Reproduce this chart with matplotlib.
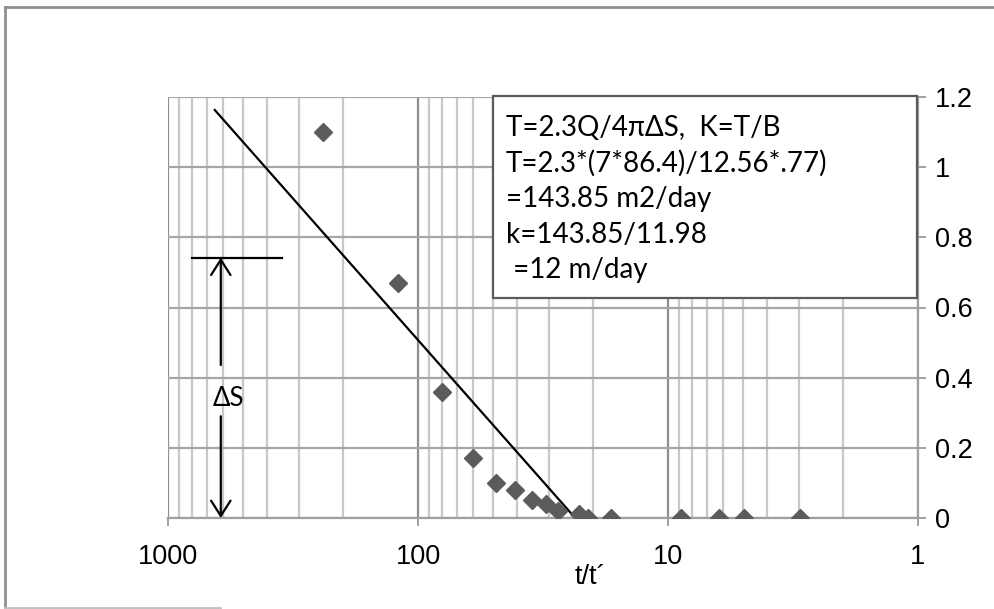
import matplotlib
matplotlib.use("Agg")
import matplotlib.pyplot as plt
import matplotlib.ticker as ticker
from matplotlib.lines import Line2D

# recovery test: t/t' against residual drawdown
t_ratio = [240, 120, 80, 60, 48.7, 40.9, 35, 30.8, 27.5, 22.7, 20.9, 16.9, 8.87, 6.25, 4.97, 2.96]
drawdown = [1.10, 0.67, 0.36, 0.17, 0.10, 0.08, 0.05, 0.04, 0.02, 0.01, 0, 0, 0, 0, 0, 0]

# straight-line fit drawn by hand
fit_t = [650, 23.5]
fit_s = [1.163, 0.0]

# delta-s marker
ds_top = 0.742
ds_x = 615
ds_bar = [800, 350]

x_ticks = [1000, 100, 10, 1]
x_tick_labels = ["1000", "100", "10", "1"]
y_ticks = [0, 0.2, 0.4, 0.6, 0.8, 1.0, 1.2]

box_lines = [
    "T=2.3Q/4πΔS,  K=T/B",
    "T=2.3*(7*86.4)/12.56*.77)",
    "=143.85 m2/day",
    "k=143.85/11.98",
    " =12 m/day",
]

W, H = 994, 609
fig = plt.figure(figsize=(W / 100, H / 100), dpi=100)
ax = fig.add_axes([168 / W, 1 - 518 / H, 750 / W, 421 / H])

ax.set_xscale("log")
ax.set_xlim(1000, 1)
ax.set_ylim(0, 1.2)

# grid like the spreadsheet chart
ax.xaxis.set_minor_locator(ticker.LogLocator(base=10, subs=range(2, 10)))
ax.xaxis.set_minor_formatter(ticker.NullFormatter())
ax.grid(True, which="major", axis="x", color="#8f8f8f", lw=1.6)
ax.grid(True, which="minor", axis="x", color="#c8c8c8", lw=1.6)
ax.grid(True, which="major", axis="y", color="#a6a6a6", lw=1.6)
ax.set_axisbelow(True)

for side in ["top", "left"]:
    ax.spines[side].set_visible(False)
for side in ["bottom", "right"]:
    ax.spines[side].set_color("#a0a0a0")
    ax.spines[side].set_linewidth(1.6)

ax.set_xticks(x_ticks)
ax.set_xticklabels(x_tick_labels)
ax.yaxis.tick_right()
ax.set_yticks(y_ticks)
ax.yaxis.set_major_formatter(ticker.FormatStrFormatter("%g"))
ax.tick_params(axis="x", which="major", direction="out", length=6, width=1.4,
               color="#a0a0a0", pad=13, labelsize=19.5)
ax.tick_params(axis="x", which="minor", length=0)
ax.tick_params(axis="y", direction="out", length=6, width=1.4,
               color="#a0a0a0", pad=6, labelsize=19.5)
for lab in ax.get_xticklabels() + ax.get_yticklabels():
    lab.set_fontfamily("Liberation Sans")

ax.set_xlabel("t/t´", fontsize=19.5, family="Liberation Sans")
ax.xaxis.set_label_coords(0.563, -0.11)

ax.plot(t_ratio, drawdown, "D", color="#5b5b5b", ms=9.5, mec="#5b5b5b", zorder=4)
ax.plot(fit_t, fit_s, color="black", lw=1.6, zorder=3)

# delta-s construction
ax.plot(ds_bar, [ds_top, ds_top], color="black", lw=1.6, zorder=3)
arrow = dict(arrowstyle="->,head_length=0.55,head_width=0.35", color="black",
             lw=1.6, mutation_scale=20, shrinkA=0, shrinkB=0)
ax.annotate("", xy=(ds_x, ds_top), xytext=(ds_x, 0.436), arrowprops=arrow)
ax.annotate("", xy=(ds_x, 0.0), xytext=(ds_x, 0.29), arrowprops=arrow)
ax.text(575, 0.34, "ΔS", fontsize=18.5, family="Lato", ha="center", va="center")

# formula box
box = plt.Rectangle((0.433, 0.5226), 0.5657, 0.4794, transform=ax.transAxes,
                    facecolor="white", edgecolor="#5b5b5b", lw=1.6, zorder=5,
                    clip_on=False)
ax.add_patch(box)
line_y = [0.927, 0.842, 0.758, 0.673, 0.588]
for txt, yy in zip(box_lines, line_y):
    ax.text(0.4507, yy, txt, transform=ax.transAxes, fontsize=20, family="Lato",
            ha="left", va="center", zorder=6)

# outer frame of the pasted chart
frame = dict(color="#8f8f8f", lw=2, transform=fig.transFigure)
fig.add_artist(Line2D([5 / W, 5 / W], [0, 1 - 7 / H], **frame))
fig.add_artist(Line2D([5 / W, 1], [1 - 7 / H, 1 - 7 / H], **frame))
fig.add_artist(Line2D([5 / W, 220 / W], [1.5 / H, 1.5 / H], color="#c0c0c0", lw=2,
                      transform=fig.transFigure))

fig.savefig("out.png", dpi=100, facecolor="white")
